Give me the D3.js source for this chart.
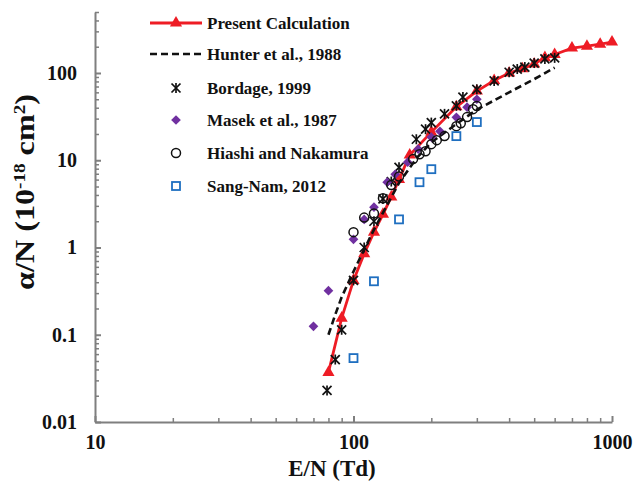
<!DOCTYPE html>
<html>
<head>
<meta charset="utf-8">
<script src="https://cdn.jsdelivr.net/npm/d3@7"></script>
<style>
  body { margin: 0; background: #fff; }
  svg text { font-family: "Liberation Serif", "Times New Roman", serif; font-weight: bold; fill: #111; }
  .axis path, .axis line { stroke: #7f7f7f; stroke-width: 2; }
  .minor line { stroke: #7f7f7f; stroke-width: 1.5; }
</style>
</head>
<body>
<div id="chart"></div>
<script>
// data (E/N in Td, alpha/N in 1e-18 cm2)
var presentE = [80, 90, 100, 110, 120, 130, 140, 150, 165, 200, 250, 300, 350, 400, 450, 500, 550, 600, 700, 800, 900, 1000];
var presentA = [0.037, 0.155, 0.42, 0.85, 1.5, 2.4, 3.8, 6.0, 11.5, 21, 41, 62, 82, 100, 112, 127, 150, 163, 193, 203, 214, 226];

var hunterE = [80, 85, 90, 100, 110, 120, 130, 150, 175, 200, 250, 300, 400, 500, 600];
var hunterA = [0.1, 0.17, 0.27, 0.53, 0.95, 1.6, 2.5, 5.5, 10.5, 16, 26, 38, 60, 85, 115];

var bordageE = [79, 85, 90, 100, 110, 120, 130, 140, 150, 175, 190, 200, 225, 250, 265, 300, 350, 400, 430, 460, 500, 550, 600];
var bordageA = [0.023, 0.052, 0.114, 0.42, 1.0, 2.0, 3.6, 5.7, 8.3, 17.4, 22.7, 27, 34, 42, 53, 65, 81, 102, 111, 117, 130, 145, 149];

var masekE = [70, 80, 100, 110, 120, 135, 145, 162, 178, 200, 216, 250, 275, 300];
var masekA = [0.125, 0.32, 1.24, 2.1, 2.9, 5.6, 6.9, 9.5, 13.4, 18.4, 21.5, 31, 40.6, 50];

var hiashiE = [100, 110, 120, 130, 140, 150, 170, 180, 190, 200, 210, 225, 250, 260, 275, 290, 300];
var hiashiA = [1.5, 2.2, 2.46, 3.66, 5.2, 6.5, 10.3, 11.7, 12.7, 15.3, 17, 18.9, 24.6, 26.6, 31.2, 38.5, 41.8];

var sangE = [100, 120, 150, 180, 200, 250, 300];
var sangA = [0.054, 0.41, 2.1, 5.6, 7.9, 18.9, 27.4];

var xMajor = [10, 100, 1000];
var yMajor = [0.01, 0.1, 1, 10, 100];
var legendNames = ["Present Calculation", "Hunter et al., 1988", "Bordage, 1999", "Masek et al., 1987", "Hiashi and Nakamura", "Sang-Nam, 2012"];

function zip(a, b) { return a.map(function (v, i) { return { e: v, a: b[i] }; }); }

var W = 635, H = 483;
var margin = { top: 12, right: 23, bottom: 61, left: 95 };

var svg = d3.select("#chart").append("svg")
    .attr("width", W)
    .attr("height", H);

var x = d3.scaleLog().domain([10, 1000]).range([margin.left, W - margin.right]);
var y = d3.scaleLog().domain([0.01, 500]).range([H - margin.bottom, margin.top]);

// minor ticks 2..9 in each decade
var xMinor = [], yMinor = [];
[10, 100].forEach(function (d) { for (var i = 2; i <= 9; i++) xMinor.push(d * i); });
[0.01, 0.1, 1, 10].forEach(function (d) { for (var i = 2; i <= 9; i++) yMinor.push(+(d * i).toPrecision(3)); });
[200, 300, 400, 500].forEach(function (d) { yMinor.push(d); });

// x axis
svg.append("g")
    .attr("class", "axis minor")
    .attr("transform", "translate(0," + (H - margin.bottom) + ")")
    .call(d3.axisBottom(x).tickValues(xMinor).tickSize(-4).tickFormat(""))
    .select(".domain").remove();
var gx = svg.append("g")
    .attr("class", "axis")
    .attr("transform", "translate(0," + (H - margin.bottom) + ")")
    .call(d3.axisBottom(x).tickValues(xMajor).tickSizeInner(-6).tickSizeOuter(0).tickPadding(13).tickFormat(d3.format("d")));
gx.selectAll("text").style("font-size", "20px");

// y axis
svg.append("g")
    .attr("class", "axis minor")
    .attr("transform", "translate(" + margin.left + ",0)")
    .call(d3.axisLeft(y).tickValues(yMinor).tickSize(-4).tickFormat(""))
    .select(".domain").remove();
var gy = svg.append("g")
    .attr("class", "axis")
    .attr("transform", "translate(" + margin.left + ",0)")
    .call(d3.axisLeft(y).tickValues(yMajor).tickSizeInner(-6).tickSizeOuter(0).tickPadding(18)
        .tickFormat(function (d) { return d < 1 ? String(d) : d3.format("d")(d); }));
gy.selectAll("text").style("font-size", "20px");

// axis titles
svg.append("text")
    .attr("x", 332).attr("y", 476)
    .attr("text-anchor", "middle")
    .style("font-size", "23px")
    .text("E/N (Td)");

var yt = svg.append("text")
    .attr("transform", "translate(34,192) rotate(-90)")
    .attr("text-anchor", "middle")
    .attr("textLength", 196)
    .attr("lengthAdjust", "spacingAndGlyphs")
    .style("font-size", "27px");
yt.append("tspan").text("\u03b1/N (10");
yt.append("tspan").attr("dy", -9).style("font-size", "16px").text("-18");
yt.append("tspan").attr("dy", 9).text(" cm");
yt.append("tspan").attr("dy", -9).style("font-size", "16px").text("2");
yt.append("tspan").attr("dy", 9).text(")");

// marker drawers
var red = "#ee1c25", purple = "#7030a0", blue = "#1f6fc0";
var tri = d3.symbol().type(d3.symbolTriangle).size(64);
var dia = d3.symbol().type(d3.symbolDiamond2).size(60);

function drawStar(g, cx, cy) {
    var s = 4.5;
    var p = g.append("g").attr("transform", "translate(" + cx + "," + cy + ")")
        .attr("stroke", "#111").attr("stroke-width", 1.7);
    p.append("line").attr("x1", -s).attr("y1", -s).attr("x2", s).attr("y2", s);
    p.append("line").attr("x1", -s).attr("y1", s).attr("x2", s).attr("y2", -s);
    p.append("line").attr("x1", 0).attr("y1", -s - 0.5).attr("x2", 0).attr("y2", s + 0.5);
}

var plot = svg.append("g");
var line = d3.line().x(function (d) { return x(d.e); }).y(function (d) { return y(d.a); });

// Present calculation
plot.append("path")
    .datum(zip(presentE, presentA))
    .attr("d", line)
    .attr("fill", "none").attr("stroke", red).attr("stroke-width", 2.8);
plot.selectAll(".tri").data(zip(presentE, presentA)).enter().append("path")
    .attr("class", "tri")
    .attr("d", tri)
    .attr("transform", function (d) { return "translate(" + x(d.e) + "," + y(d.a) + ")"; })
    .attr("fill", red);

// Hunter
plot.append("path")
    .datum(zip(hunterE, hunterA))
    .attr("d", line)
    .attr("fill", "none").attr("stroke", "#111").attr("stroke-width", 2.6)
    .attr("stroke-dasharray", "7,4");

// Bordage
var gb = plot.append("g");
zip(bordageE, bordageA).forEach(function (d) { drawStar(gb, x(d.e), y(d.a)); });

// Masek
plot.selectAll(".dia").data(zip(masekE, masekA)).enter().append("path")
    .attr("class", "dia")
    .attr("d", dia)
    .attr("transform", function (d) { return "translate(" + x(d.e) + "," + y(d.a) + ")"; })
    .attr("fill", purple);

// Hiashi
plot.selectAll(".circ").data(zip(hiashiE, hiashiA)).enter().append("circle")
    .attr("class", "circ")
    .attr("cx", function (d) { return x(d.e); })
    .attr("cy", function (d) { return y(d.a); })
    .attr("r", 4.5)
    .attr("fill", "none").attr("stroke", "#111").attr("stroke-width", 1.5);

// Sang-Nam
plot.selectAll(".sq").data(zip(sangE, sangA)).enter().append("rect")
    .attr("class", "sq")
    .attr("x", function (d) { return x(d.e) - 4; })
    .attr("y", function (d) { return y(d.a) - 4; })
    .attr("width", 8).attr("height", 8)
    .attr("fill", "none").attr("stroke", blue).attr("stroke-width", 1.8);

// legend
var rows = [23, 54, 88, 120, 153, 186];
var lg = svg.append("g");
lg.append("line").attr("x1", 150).attr("x2", 202).attr("y1", rows[0]).attr("y2", rows[0])
    .attr("stroke", red).attr("stroke-width", 2.8);
lg.append("path").attr("d", tri).attr("transform", "translate(176," + rows[0] + ")").attr("fill", red);
lg.append("line").attr("x1", 150).attr("x2", 202).attr("y1", rows[1]).attr("y2", rows[1])
    .attr("stroke", "#111").attr("stroke-width", 2.6).attr("stroke-dasharray", "7,4");
drawStar(lg, 176, rows[2]);
lg.append("path").attr("d", dia).attr("transform", "translate(176," + rows[3] + ")").attr("fill", purple);
lg.append("circle").attr("cx", 176).attr("cy", rows[4]).attr("r", 4.5)
    .attr("fill", "none").attr("stroke", "#111").attr("stroke-width", 1.5);
lg.append("rect").attr("x", 172).attr("y", rows[5] - 4).attr("width", 8).attr("height", 8)
    .attr("fill", "none").attr("stroke", blue).attr("stroke-width", 1.8);
lg.selectAll(".lt").data(legendNames).enter().append("text")
    .attr("class", "lt")
    .attr("x", 207)
    .attr("y", function (d, i) { return rows[i] + 6; })
    .style("font-size", "17px")
    .text(function (d) { return d; });
</script>
</body>
</html>
